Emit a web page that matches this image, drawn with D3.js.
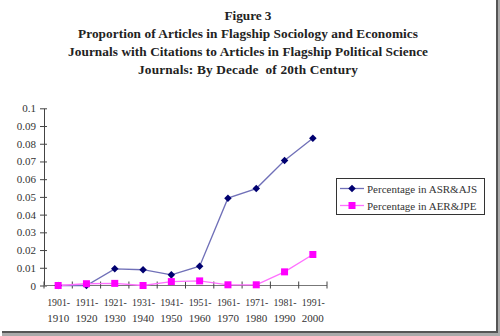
<!DOCTYPE html>
<html><head><meta charset="utf-8">
<script src="https://cdn.jsdelivr.net/npm/d3@7"></script>
<style>body{margin:0;background:#fff}svg{display:block}</style>
</head><body>
<svg id="c" width="500" height="336"></svg>
<script>
const categoriesTop = ["1901-","1911-","1921-","1931-","1941-","1951-","1961-","1971-","1981-","1991-"];
const categoriesBottom = ["1910","1920","1930","1940","1950","1960","1970","1980","1990","2000"];
const asrAjs = [0, 0, 0.0094, 0.0089, 0.006, 0.0109, 0.0493, 0.0547, 0.0705, 0.0831];
const aerJpe = [0, 0.001, 0.0012, 0, 0.0022, 0.0026, 0.0004, 0.0004, 0.0077, 0.0175];
const yTicks = [0,0.01,0.02,0.03,0.04,0.05,0.06,0.07,0.08,0.09,0.1];
const seriesNames = ["Percentage in ASR&AJS","Percentage in AER&JPE"];
const titleLines = ["Figure 3","Proportion of Articles in Flagship Sociology and Economics","Journals with Citations to Articles in Flagship Political Science","Journals: By Decade  of 20th Century"];

const svg = d3.select("#c");
const font = "Liberation Serif";

// frame shadow
svg.append("rect").attr("x",496).attr("y",0).attr("width",2).attr("height",333).attr("fill","#555");
svg.append("rect").attr("x",498).attr("y",0).attr("width",2).attr("height",336).attr("fill","#aaa");
svg.append("rect").attr("x",2).attr("y",331).attr("width",496).attr("height",2).attr("fill","#555");
svg.append("rect").attr("x",2).attr("y",333).attr("width",498).attr("height",3).attr("fill","#aaa");

// title
const titleW = [47,340,360,220];
svg.append("g").selectAll("text").data(titleLines).join("text")
  .attr("x",248).attr("y",(d,i)=>19.5+i*18.3)
  .attr("text-anchor","middle").attr("font-family",font).attr("font-weight","bold")
  .attr("font-size",13.3).attr("fill","#222")
  .style("white-space","pre")
  .attr("textLength",(d,i)=>titleW[i]).attr("lengthAdjust","spacing")
  .text(d=>d);

const x = d3.scaleBand().domain(d3.range(categoriesTop.length)).range([44,327]);
const y = d3.scaleLinear().domain([0,0.1]).range([285.5,108.3]);

// y axis
const ya = svg.append("g").attr("transform","translate(44,0)")
  .call(d3.axisLeft(y).tickValues(yTicks).tickFormat(d=>d===0?"0":String(+d.toFixed(2))).tickSize(4).tickSizeOuter(0));
ya.selectAll(".tick line").attr("x2",3).attr("x1",-4);
ya.select(".domain").attr("stroke","#444");
ya.selectAll(".tick line").attr("stroke","#444");
ya.selectAll("text").attr("font-family",font).attr("font-size",11).attr("fill","#333").attr("x",-8);

// x axis
const xa = svg.append("g").attr("transform","translate(0,285.5)");
xa.append("line").attr("x1",44).attr("x2",327).attr("stroke","#777").attr("stroke-width",1.2);
const bounds = d3.range(categoriesTop.length+1).map(i=> i<categoriesTop.length ? x(i) : x(i-1)+x.bandwidth());
xa.selectAll("line.t").data(bounds).join("line").attr("class","t")
  .attr("x1",d=>d).attr("x2",d=>d).attr("y1",-4).attr("y2",3).attr("stroke","#444");
xa.selectAll("text.a").data(categoriesTop).join("text").attr("class","a")
  .attr("x",(d,i)=>x(i)+x.bandwidth()/2+0.5).attr("y",20).attr("text-anchor","middle")
  .attr("font-family",font).attr("font-size",11).attr("fill","#333")
  .attr("textLength",23).attr("lengthAdjust","spacingAndGlyphs").text(d=>d);
xa.selectAll("text.b").data(categoriesBottom).join("text").attr("class","b")
  .attr("x",(d,i)=>x(i)+x.bandwidth()/2).attr("y",36).attr("text-anchor","middle")
  .attr("font-family",font).attr("font-size",11).attr("fill","#333").text(d=>d);

const cx = i => x(i)+x.bandwidth()/2;
const line = d3.line().x((d,i)=>cx(i)).y(d=>y(d));

svg.append("path").datum(asrAjs).attr("d",line).attr("fill","none").attr("stroke","#7070b8").attr("stroke-width",1.3);
svg.append("path").datum(aerJpe).attr("d",line).attr("fill","none").attr("stroke","#ff70ff").attr("stroke-width",1.3);

const diamond = d3.symbol().type(d3.symbolDiamond2).size(36);
svg.append("g").selectAll("path").data(asrAjs).join("path")
  .attr("d",diamond).attr("transform",(d,i)=>`translate(${cx(i)},${y(d)})`).attr("fill","#000070");
svg.append("g").selectAll("rect").data(aerJpe).join("rect")
  .attr("x",(d,i)=>cx(i)-3.5).attr("y",d=>y(d)-3.5).attr("width",7).attr("height",7).attr("fill","#ff00ff");

// legend
const lg = svg.append("g");
lg.append("rect").attr("x",336.5).attr("y",178.5).attr("width",148).attr("height",36).attr("fill","#fff").attr("stroke","#333");
const colors = [["#7070b8","#000070"],["#ff70ff","#ff00ff"]];
seriesNames.forEach((n,i)=>{
  const yy = 188.5 + i*17;
  lg.append("line").attr("x1",340).attr("x2",364).attr("y1",yy).attr("y2",yy).attr("stroke",colors[i][0]).attr("stroke-width",1.3);
  if(i===0) lg.append("path").attr("d",diamond).attr("transform",`translate(352,${yy})`).attr("fill",colors[i][1]);
  else lg.append("rect").attr("x",348.5).attr("y",yy-3.5).attr("width",7).attr("height",7).attr("fill",colors[i][1]);
  lg.append("text").attr("x",367).attr("y",yy+4).attr("font-family",font).attr("font-size",11).attr("fill","#333").text(n);
});
</script>
</body></html>
